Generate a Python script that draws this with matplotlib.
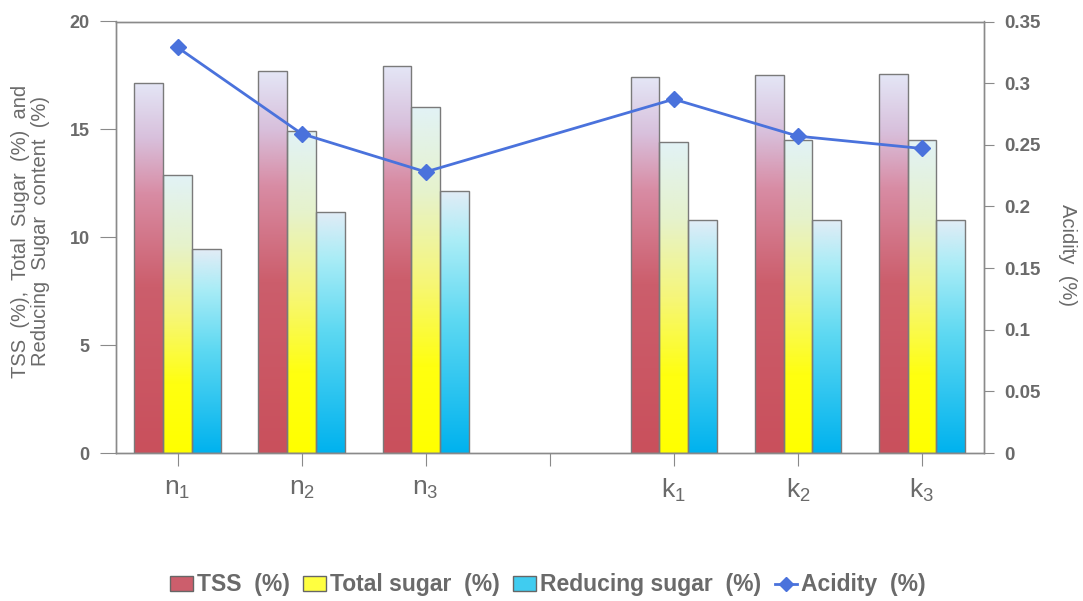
import numpy as np
import matplotlib
matplotlib.use("Agg")
import matplotlib.pyplot as plt
from matplotlib.colors import LinearSegmentedColormap
from matplotlib.patches import Patch
from matplotlib.lines import Line2D

plt.rcParams['font.family'] = ['Liberation Sans', 'DejaVu Sans']
plt.rcParams['mathtext.fontset'] = 'custom'
plt.rcParams['mathtext.rm'] = 'Liberation Sans'
plt.rcParams['mathtext.it'] = 'Liberation Sans'

categories = ["n$_1$", "n$_2$", "n$_3$", "", "k$_1$", "k$_2$", "k$_3$"]
tss = [17.15, 17.7, 17.92, None, 17.42, 17.5, 17.55]
total_sugar = [12.87, 14.92, 16.05, None, 14.43, 14.53, 14.53]
reducing_sugar = [9.45, 11.18, 12.15, None, 10.8, 10.8, 10.8]
acidity = [0.329, 0.259, 0.228, None, 0.287, 0.257, 0.247]

series_names = ["TSS  (%)", "Total sugar  (%)", "Reducing sugar  (%)"]
acid_name = "Acidity  (%)"

grad_tss = LinearSegmentedColormap.from_list(
    "tss", [(0.0, "#e4e6f6"), (0.15, "#d8c0dc"), (0.3, "#d88ca4"),
            (0.55, "#cc5e6c"), (1.0, "#c9505c")])
grad_ts = LinearSegmentedColormap.from_list(
    "ts", [(0.0, "#e2f2f6"), (0.25, "#e6f2cc"), (0.5, "#f6f67a"),
           (0.75, "#ffff10"), (1.0, "#ffff00")])
grad_rs = LinearSegmentedColormap.from_list(
    "rs", [(0.0, "#e2ecf6"), (0.2, "#a8ecf6"), (0.5, "#5cd8f2"),
           (1.0, "#00b2ee")])
grads = [grad_tss, grad_ts, grad_rs]

W, H = 1083, 601
fig = plt.figure(figsize=(W / 100, H / 100), dpi=100)
ax = fig.add_axes([115.5 / W, 1 - 453 / H, (984 - 115.5) / W, (453 - 21.5) / H])
ax2 = ax.twinx()

x = np.arange(len(categories))
w = 0.232
offsets = [-w, 0, w]
grad_img = np.linspace(1, 0, 256).reshape(-1, 1)

for s_i, (vals, cmap) in enumerate(zip([tss, total_sugar, reducing_sugar], grads)):
    xs = [xi + offsets[s_i] for xi, v in zip(x, vals) if v is not None]
    hs = [v for v in vals if v is not None]
    bars = ax.bar(xs, hs, width=w, facecolor="none", edgecolor="#7a7a7a",
                  linewidth=1.0, zorder=3)
    for b in bars:
        bx, by = b.get_x(), b.get_y()
        bw, bh = b.get_width(), b.get_height()
        im = ax.imshow(grad_img, cmap=cmap, aspect="auto",
                       extent=[bx, bx + bw, by, by + bh], zorder=2,
                       vmin=0, vmax=1, origin="lower")
        im.set_clip_path(b)

ax_x = [xi for xi, v in zip(x, acidity) if v is not None]
ax_y = [v for v in acidity if v is not None]
ax2.plot(ax_x, ax_y, color="#4a72dc", linewidth=2, marker="D",
         markersize=8, zorder=5)

ax.set_xlim(-0.5, len(categories) - 0.5)
ax.set_ylim(0, 20)
ax2.set_ylim(0, 0.35)
ax.set_yticks([0, 5, 10, 15, 20])
ax2.set_yticks([0, 0.05, 0.1, 0.15, 0.2, 0.25, 0.3, 0.35])
ax2.set_yticklabels(["0", "0.05", "0.1", "0.15", "0.2", "0.25", "0.3", "0.35"])
ax.set_xticks(x)
ax.set_xticklabels(categories)

ax.set_zorder(ax2.get_zorder() - 1)
ax2.patch.set_visible(False)

spine_c = "#8a8a8a"
for a in (ax, ax2):
    for sp in a.spines.values():
        sp.set_color(spine_c)
        sp.set_linewidth(1.0)

ax.tick_params(axis='y', direction='out', length=11.5, color=spine_c,
               labelsize=13, labelcolor="#6a6a6a", pad=7)
ax2.tick_params(axis='y', direction='out', length=7.5, color=spine_c,
                labelsize=13.5, labelcolor="#6a6a6a", pad=7)
ax.tick_params(axis='x', direction='out', length=9, color=spine_c,
               labelsize=19, labelcolor="#6a6a6a", pad=8)
for lab in ax.get_yticklabels() + ax2.get_yticklabels():
    lab.set_fontweight("bold")

fig.text(30.5 / W, 1 - 231 / H,
         "TSS  (%),  Total  Sugar  (%)  and\nReducing  Sugar  content  (%)",
         rotation=90, ha="center", va="center", multialignment="center",
         fontsize=14.5, color="#6a6a6a", linespacing=1.1)
fig.text(1067 / W, 1 - 255 / H, "Acidity  (%)", rotation=270,
         ha="center", va="center", fontsize=14.5, color="#6a6a6a")

handles = [Patch(facecolor=c, edgecolor="#666666") for c in
           ["#cc5e6c", "#ffff40", "#40ccf0"]]
handles.append(Line2D([0], [0], color="#4a72dc", linewidth=2, marker="D",
                      markersize=7))
leg = fig.legend(handles, series_names + [acid_name], loc="center",
                 bbox_to_anchor=(548 / W, 1 - 585 / H), ncol=4,
                 frameon=False, fontsize=16.5, handlelength=1.0,
                 handletextpad=0.15, columnspacing=0.6, handleheight=0.6,
                 borderpad=0.1)
for t in leg.get_texts():
    t.set_color("#6a6a6a")
    t.set_fontweight("bold")

fig.savefig("out.png", dpi=100)
